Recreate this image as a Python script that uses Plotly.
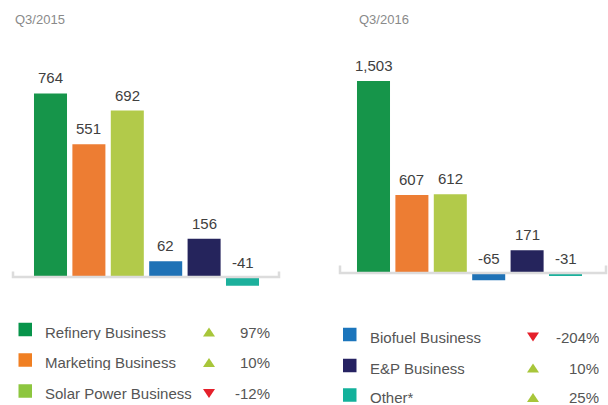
import plotly.graph_objects as go

# ---------------- data ----------------
categories = ["Refinery Business", "Marketing Business", "Solar Power Business",
              "Biofuel Business", "E&P Business", "Other*"]
q3_2015 = [764, 551, 692, 62, 156, -41]
q3_2016 = [1503, 607, 612, -65, 171, -31]
yoy_change = [97, 10, -12, -204, 10, 25]
period_labels = ["Q3/2015", "Q3/2016"]

# ---------------- style ----------------
W, H = 608, 405
bar_colors = ["#16954a", "#ed7d33", "#b2ca4a", "#1f72b6", "#25245c", "#1cb09c"]
legend_colors = ["#07944a", "#f07f22", "#8dc63f", "#1b75bc", "#262262", "#13b19b"]
UP_COLOR, DOWN_COLOR = "#a8c63a", "#e5202b"
FONT = "Liberation Sans, Arial, Helvetica, sans-serif"
TEXT = "#555555"


def px(x):
    return x / W


def py(y):
    return 1 - y / H


PLOT_TOP, PLOT_BOT = 40, 300
panels = [
    dict(vals=q3_2015, x0=31.3, x1=261.7, zero=276.0, scale=0.239,
         br=(13, 279, 277, 271.5), title_x=13, ax="x", ay="y"),
    dict(vals=q3_2016, x0=354.3, x1=584.7, zero=272.0, scale=0.127,
         br=(340, 606, 273, 265.5), title_x=357, ax="x2", ay="y2"),
]

fig = go.Figure()
annotations = []
shapes = []
layout_axes = {}

for i, p in enumerate(panels):
    fig.add_trace(go.Bar(
        x=categories, y=p["vals"], marker_color=bar_colors, marker_line_width=0,
        width=0.86, xaxis=p["ax"], yaxis=p["ay"], showlegend=False,
        hoverinfo="x+y"))
    ymin = -(PLOT_BOT - p["zero"]) / p["scale"]
    ymax = (p["zero"] - PLOT_TOP) / p["scale"]
    xkey = "xaxis" if i == 0 else "xaxis2"
    ykey = "yaxis" if i == 0 else "yaxis2"
    layout_axes[xkey] = dict(domain=[px(p["x0"]), px(p["x1"])], range=[-0.5, 5.5],
                             visible=False, type="category", fixedrange=True)
    layout_axes[ykey] = dict(domain=[py(PLOT_BOT), py(PLOT_TOP)], range=[ymin, ymax],
                             visible=False, fixedrange=True)
    if i == 1:
        layout_axes[xkey]["anchor"] = "y2"
        layout_axes[ykey]["anchor"] = "x2"

    # value labels
    for c, v in zip(categories, p["vals"]):
        annotations.append(dict(
            x=c, y=max(v, 0), xref=p["ax"], yref=p["ay"], text=f"{v:,}",
            showarrow=False, yanchor="bottom", yshift=5 if v >= 0 else 3,
            font=dict(family=FONT, size=15, color="#404040")))

    # bracket baseline
    bx0, bx1, by, bt = p["br"]
    shapes.append(dict(
        type="path", xref="paper", yref="paper", layer="above",
        path=f"M {px(bx0)},{py(bt)} L {px(bx0)},{py(by)} L {px(bx1)},{py(by)} L {px(bx1)},{py(bt)}",
        line=dict(color="#dcdcdc", width=2.5)))

    # period title
    annotations.append(dict(
        x=px(p["title_x"]), y=py(19), xref="paper", yref="paper", text=period_labels[i],
        showarrow=False, xanchor="left", yanchor="middle",
        font=dict(family=FONT, size=13, color="#8a8a8a")))

# ---------------- custom legend ----------------
legend_cols = [
    dict(sq_x=18.5, txt_x=44, tri_x=209, pct_x=271, rows=[330.5, 361, 392]),
    dict(sq_x=343, txt_x=369, tri_x=533, pct_x=600, rows=[335.5, 366.5, 396]),
]
SQ = 13.5
for k in range(6):
    col = legend_cols[k // 3]
    yc = col["rows"][k % 3]
    # swatch
    shapes.append(dict(type="rect", xref="paper", yref="paper",
                       x0=px(col["sq_x"]), x1=px(col["sq_x"] + SQ),
                       y0=py(yc - 1 + SQ / 2), y1=py(yc - 1 - SQ / 2),
                       fillcolor=legend_colors[k], line=dict(width=0)))
    # name
    annotations.append(dict(x=px(col["txt_x"]), y=py(yc + 1.5), xref="paper", yref="paper",
                            text=categories[k], showarrow=False, xanchor="left",
                            yanchor="middle", height=15, borderpad=0,
                            font=dict(family=FONT, size=15, color=TEXT)))
    # change marker
    ch = yoy_change[k]
    cx, cy = col["tri_x"], yc + 1.5
    if ch >= 0:
        path = (f"M {px(cx - 6)},{py(cy + 4.5)} L {px(cx + 6)},{py(cy + 4.5)} "
                f"L {px(cx)},{py(cy - 4.5)} Z")
        tc = UP_COLOR
    else:
        path = (f"M {px(cx - 6)},{py(cy - 4.5)} L {px(cx + 6)},{py(cy - 4.5)} "
                f"L {px(cx)},{py(cy + 4.5)} Z")
        tc = DOWN_COLOR
    shapes.append(dict(type="path", xref="paper", yref="paper", path=path,
                       fillcolor=tc, line=dict(width=0)))
    # percent
    annotations.append(dict(x=px(col["pct_x"]), y=py(yc + 1.5), xref="paper", yref="paper",
                            text=f"{ch}%", showarrow=False, xanchor="right",
                            yanchor="middle", height=15, borderpad=0,
                            font=dict(family=FONT, size=15, color=TEXT)))

fig.update_layout(
    width=W, height=H, margin=dict(l=0, r=0, t=0, b=0),
    paper_bgcolor="white", plot_bgcolor="white",
    showlegend=False, bargap=0.14,
    annotations=annotations, shapes=shapes,
    **layout_axes,
)

fig.write_html("out.html", config={"displayModeBar": False},
               post_script="document.body.style.margin='0';document.body.style.overflow='hidden';")
